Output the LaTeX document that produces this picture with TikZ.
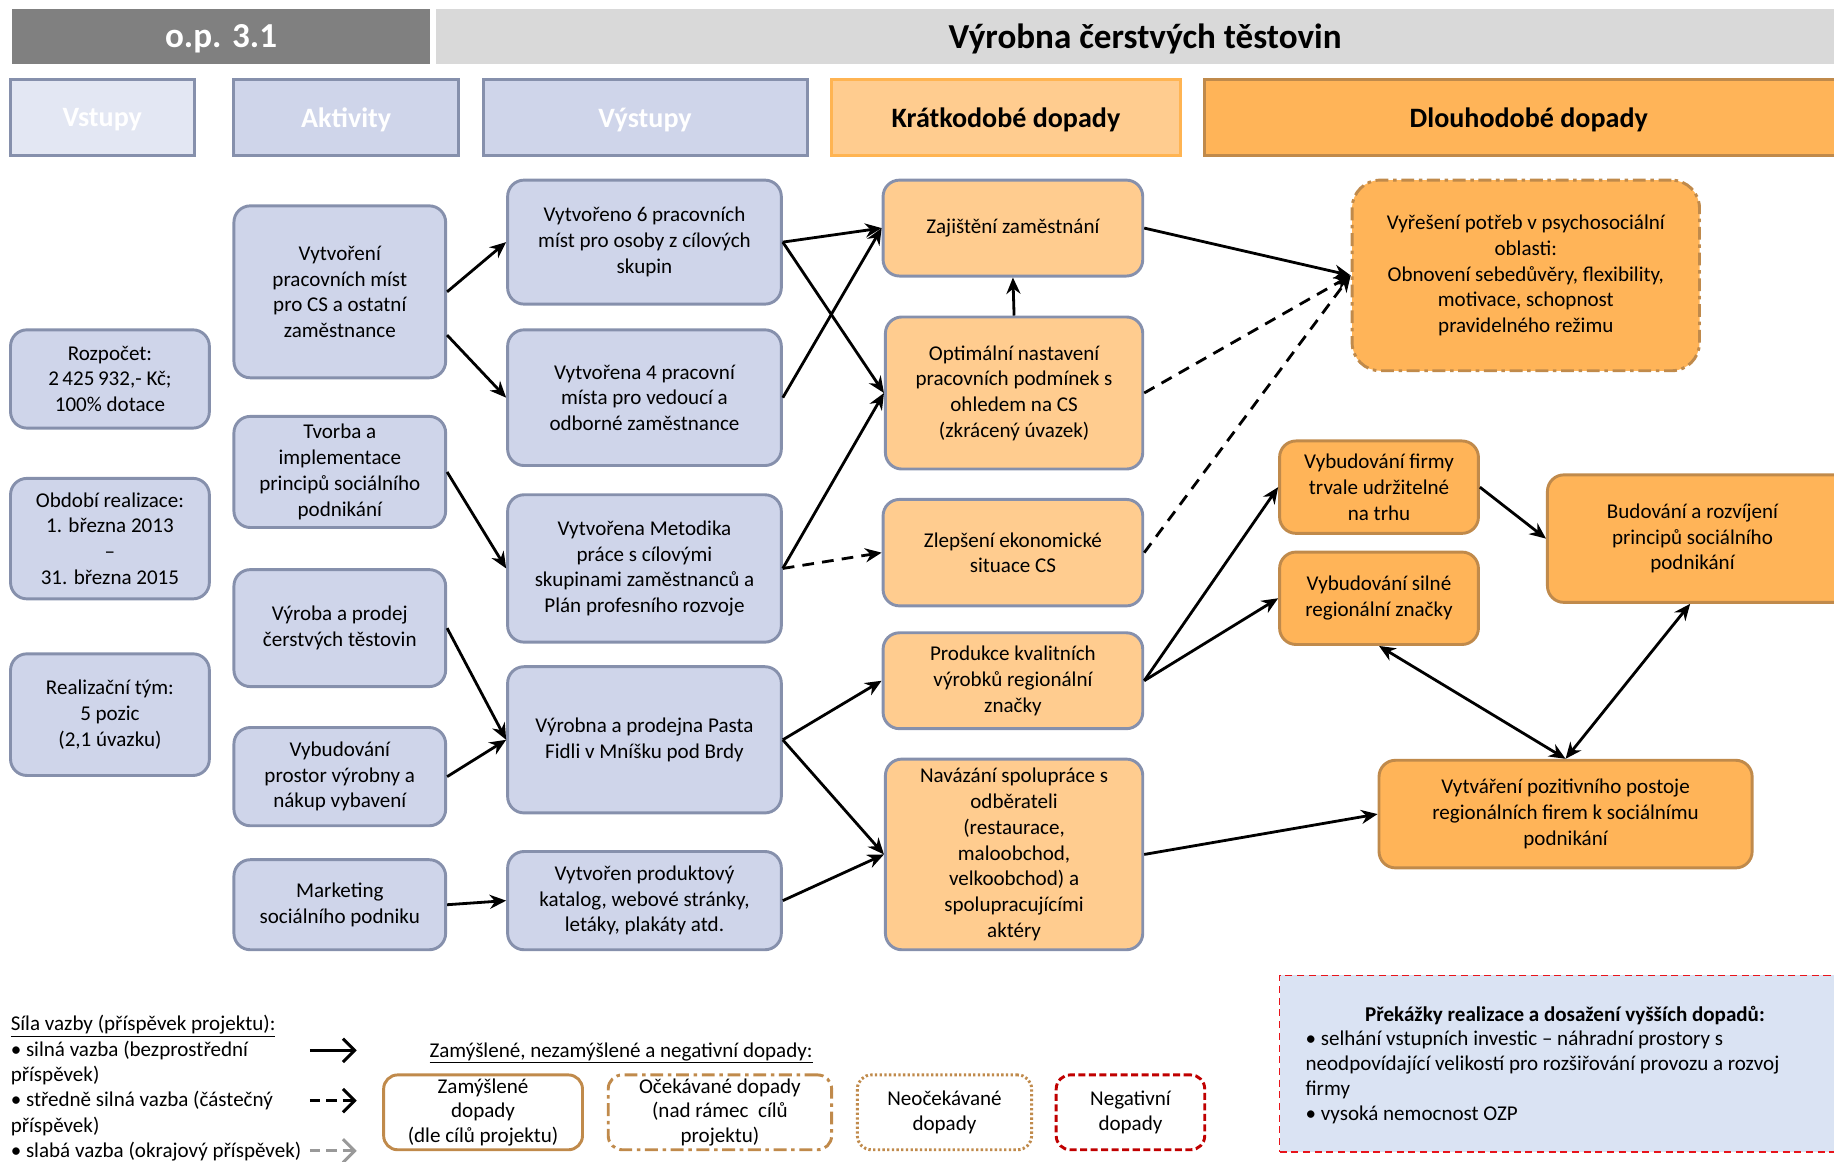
\documentclass[tikz,border=0pt]{standalone}
\usepackage{fontspec}
\setmainfont{Carlito}
\usetikzlibrary{arrows.meta}
\definecolor{bluefill}{HTML}{CFD5EA}
\definecolor{bluelight}{HTML}{E3E7F3}
\definecolor{blueline}{HTML}{8690AC}
\definecolor{peach}{HTML}{FFCC8F}
\definecolor{peachline}{HTML}{FFB452}
\definecolor{orangefill}{HTML}{FFB458}
\definecolor{brownline}{HTML}{C08A4B}
\definecolor{darkgrey}{HTML}{808080}
\definecolor{lightgrey}{HTML}{D9D9D9}
\definecolor{obstfill}{HTML}{DAE3F3}
\definecolor{negred}{HTML}{C00000}
\definecolor{obstred}{HTML}{E8141B}
\begin{document}
\begin{tikzpicture}[x=1pt, y=-1pt, >={Stealth[length=14pt,width=12pt]},
  every node/.style={font=\fontsize{18}{22}\selectfont, align=center, inner sep=2pt},
  title/.style={minimum height=47pt, text depth=0pt, font=\fontsize{30}{32}\selectfont\bfseries},
  header/.style={draw=blueline, line width=2.5pt, fill=bluefill, minimum height=65pt, text depth=0pt, text=white, font=\fontsize{24}{26}\selectfont\bfseries},
  concept/.style={draw=blueline, line width=2.5pt, fill=bluefill, rounded corners=14pt},
  shortterm/.style={concept, fill=peach},
  longterm/.style={draw=brownline, line width=2.5pt, fill=orangefill, rounded corners=14pt},
  legendbox/.style={draw=brownline, line width=2.5pt, fill=white, rounded corners=12pt, minimum height=64pt, font=\fontsize{18}{21}\selectfont},
  link/.style={->, line width=2.4pt},
  weaklink/.style={link, dash pattern=on 10pt off 7pt},
  dashdot/.style={dash pattern=on 11pt off 4pt on 3pt off 4pt},
  legendarrow/.style={-{Straight Barb[length=10pt,width=20pt]}, line width=2.6pt}]
\useasboundingbox (0,0) rectangle (1568,993);
\node[title, fill=darkgrey, text=white, minimum width=358pt] (opname) at (189,31) {o.p. 3.1};
\node[title, fill=lightgrey, minimum width=1212pt] (projname) at (979,31) {Výrobna čerstvých těstovin};
\node[header, fill=bluelight, minimum width=157pt] (hin) at (87.5,100.5) {Vstupy};
\node[header, minimum width=192pt] (hac) at (296,100.5) {Aktivity};
\node[header, minimum width=277pt] (hout) at (551.5,100.5) {Výstupy};
\node[header, draw=peachline, fill=peach, text=black, minimum width=298pt] (hst) at (860,100.5) {Krátkodobé dopady};
\node[header, draw=brownline, fill=orangefill, text=black, minimum width=554pt] (hlt) at (1307,100.5) {Dlouhodobé dopady};
\node[concept, minimum width=170pt, minimum height=84pt] (in1) at (94,324) {Rozpočet:\\2\,425\,932,- Kč;\\100\% dotace};
\node[concept, minimum width=170pt, minimum height=103pt] (in2) at (94,460.5) {Období realizace:\\1. března 2013\\–\\31. března 2015};
\node[concept, minimum width=170pt, minimum height=104pt] (in3) at (94,611) {Realizační tým:\\5 pozic\\(2,1 úvazku)};
\node[concept, minimum width=181pt, minimum height=147pt] (ac1) at (290.5,249.5) {Vytvoření\\pracovních míst\\pro CS a ostatní\\zaměstnance};
\node[concept, minimum width=181pt, minimum height=95pt] (ac2) at (290.5,403.5) {Tvorba a\\implementace\\principů sociálního\\podnikání};
\node[concept, minimum width=181pt, minimum height=100pt] (ac3) at (290.5,537) {Výroba a prodej\\čerstvých těstovin};
\node[concept, minimum width=181pt, minimum height=84pt] (ac4) at (290.5,664) {Vybudování\\prostor výrobny a\\nákup vybavení};
\node[concept, minimum width=181pt, minimum height=77pt] (ac5) at (290.5,773.5) {Marketing\\sociálního podniku};
\node[concept, minimum width=234pt, minimum height=106pt] (out1) at (551,207) {Vytvořeno 6 pracovních\\míst pro osoby z cílových\\skupin};
\node[concept, minimum width=234pt, minimum height=116pt] (out2) at (551,340) {Vytvořena 4 pracovní\\místa pro vedoucí a\\odborné zaměstnance};
\node[concept, minimum width=234pt, minimum height=126pt] (out3) at (551,486) {Vytvořena Metodika\\práce s cílovými\\skupinami zaměstnanců a\\Plán profesního rozvoje};
\node[concept, minimum width=234pt, minimum height=125pt] (out4) at (551,632.5) {Výrobna a prodejna Pasta\\Fidli v Mníšku pod Brdy};
\node[concept, minimum width=234pt, minimum height=84pt] (out5) at (551,770) {Vytvořen produktový\\katalog, webové stránky,\\letáky, plakáty atd.};
\node[shortterm, minimum width=222pt, minimum height=82pt] (st1) at (866,195) {Zajištění zaměstnání};
\node[shortterm, minimum width=220pt, minimum height=130pt] (st2) at (867,336) {Optimální nastavení\\pracovních podmínek s\\ohledem na CS\\(zkrácený úvazek)};
\node[shortterm, minimum width=222pt, minimum height=91pt] (st3) at (866,472.5) {Zlepšení ekonomické\\situace CS};
\node[shortterm, minimum width=222pt, minimum height=82pt] (st4) at (866,582) {Produkce kvalitních\\výrobků regionální\\značky};
\node[shortterm, minimum width=220pt, minimum height=163pt] (st5) at (867,730.5) {Navázání spolupráce s\\odběrateli\\(restaurace,\\maloobchod,\\velkoobchod) a\\spolupracujícími\\aktéry};
\node[longterm, dashdot, minimum width=297pt, minimum height=163pt, rounded corners=24pt] (lt1) at (1304.5,235.5) {Vyřešení potřeb v psychosociální\\oblasti:\\Obnovení sebedůvěry, flexibility,\\motivace, schopnost\\pravidelného režimu};
\node[longterm, minimum width=170pt, minimum height=79pt] (lt2) at (1179,416.5) {Vybudování firmy\\trvale udržitelné\\na trhu};
\node[longterm, minimum width=170pt, minimum height=79pt] (lt3) at (1179,511.5) {Vybudování silné\\regionální značky};
\node[longterm, minimum width=262pt, minimum height=109pt] (lt4) at (1454,460.5) {\hspace*{-14pt}Budování a rozvíjení\\\hspace*{-14pt}principů sociálního\\\hspace*{-14pt}podnikání};
\node[longterm, minimum width=319pt, minimum height=92pt] (lt5) at (1338.5,696) {Vytváření pozitivního postoje\\regionálních firem k sociálnímu\\podnikání};
\draw[link] (ac1.east) -- (out1.west);
\draw[link] ([yshift=-37pt]ac1.east) -- (out2.west);
\draw[link] (ac2.east) -- (out3.west);
\draw[link] (ac3.east) -- (out4.west);
\draw[link] (ac4.east) -- (out4.west);
\draw[link] (ac5.east) -- (out5.west);
\draw[link] (out1.east) -- (st1.west);
\draw[link] (out1.east) -- (st2.west);
\draw[link] (out2.east) -- (st1.west);
\draw[link] (out3.east) -- (st2.west);
\draw[weaklink] (out3.east) -- (st3.west);
\draw[link] (out4.east) -- (st4.west);
\draw[link] (out4.east) -- (st5.west);
\draw[link] (out5.east) -- (st5.west);
\draw[link] (st2.north) -- (st1.south);
\draw[link] (st1.east) -- (lt1.west);
\draw[weaklink] (st2.east) -- (lt1.west);
\draw[weaklink] (st3.east) -- (lt1.west);
\draw[link] (st4.east) -- (lt2.west);
\draw[link] (st4.east) -- (lt3.west);
\draw[link] (lt2.east) -- (lt4.west);
\draw[link, <->] (lt3.south) -- (lt5.north);
\draw[link, <->] ([xshift=-9pt]lt4.south) -- (lt5.north);
\draw[link] (st5.east) -- (lt5.west);
\node[anchor=west] (strength) at (7,877) {\underline{Síla vazby (příspěvek projektu):}};
\node[anchor=north west, align=left, font=\fontsize{18}{21.5}\selectfont] (strengthitems) at (7,888) {• silná vazba (bezprostřední\\příspěvek)\\• středně silná vazba (částečný\\příspěvek)\\• slabá vazba (okrajový příspěvek)};
\coordinate (strongA) at (265,898);
\coordinate (strongB) at (305,898);
\coordinate (mediumA) at (265,941);
\coordinate (mediumB) at (305,941);
\coordinate (weakA) at (265,984);
\coordinate (weakB) at (305,984);
\draw[legendarrow] (strongA) -- (strongB);
\draw[legendarrow, dash pattern=on 9pt off 5pt] (mediumA) -- (mediumB);
\draw[legendarrow, gray!80, dash pattern=on 9pt off 5pt] (weakA) -- (weakB);
\node (impacts) at (531,900) {\underline{Zamýšlené, nezamýšlené a negativní dopady:}};
\node[legendbox, minimum width=170pt] (lg1) at (413,951) {Zamýšlené\\dopady\\(dle cílů projektu)};
\node[legendbox, dashdot, minimum width=191pt] (lg2) at (615.5,951) {Očekávané dopady\\(nad rámec\ \ cílů\\projektu)};
\node[legendbox, dash pattern=on 2pt off 2pt, minimum width=149pt] (lg3) at (807.5,951) {Neočekávané\\dopady};
\node[legendbox, draw=negred, dash pattern=on 6pt off 3pt, minimum width=127pt] (lg4) at (966.5,951) {Negativní\\dopady};
\node[draw=obstred, line width=1.5pt, dash pattern=on 6pt off 4pt, fill=obstfill, minimum width=500pt, minimum height=151pt] (obst) at (1344,909.5) {};
\node[font=\fontsize{18}{21.5}\selectfont\bfseries] (obsttitle) at (1338,868) {Překážky realizace a dosažení vyšších dopadů:};
\node[anchor=north west, align=left, font=\fontsize{18}{21.5}\selectfont] (obsttext) at (1114,879) {• selhání vstupních investic – náhradní prostory s\\neodpovídající velikostí pro rozšiřování provozu a rozvoj\\firmy\\• vysoká nemocnost OZP};
\end{tikzpicture}
\end{document}
